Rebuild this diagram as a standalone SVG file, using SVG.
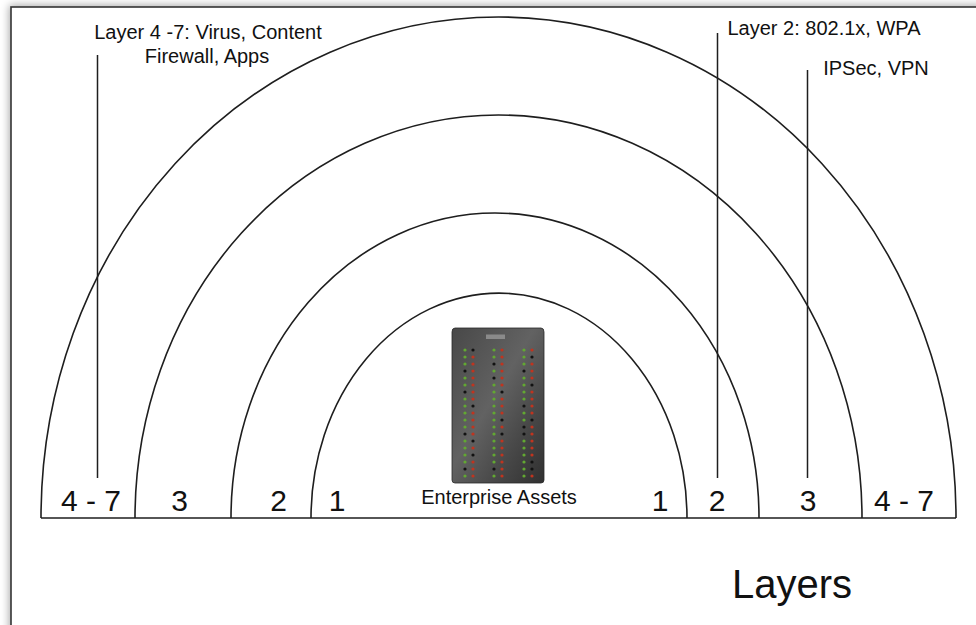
<svg xmlns="http://www.w3.org/2000/svg" width="976" height="625" viewBox="0 0 976 625">
  <defs>
    <filter id="frameShadow" x="-5%" y="-5%" width="110%" height="110%">
      <feGaussianBlur in="SourceAlpha" stdDeviation="4"/>
      <feOffset dx="-1" dy="-1" result="blur"/>
      <feComponentTransfer><feFuncA type="linear" slope="0.35"/></feComponentTransfer>
      <feMerge><feMergeNode/><feMergeNode in="SourceGraphic"/></feMerge>
    </filter>
    <linearGradient id="cabinet" x1="0" y1="0" x2="1" y2="1">
      <stop offset="0" stop-color="#484848"/>
      <stop offset="0.45" stop-color="#626262"/>
      <stop offset="0.7" stop-color="#4a4a4a"/>
      <stop offset="1" stop-color="#303030"/>
    </linearGradient>
    <circle id="led" r="1.6"/>
  </defs>
  <style>
    .ring { fill: none; stroke: #1e1e1e; stroke-width: 1.6; }
    .lead { fill: none; stroke: #1e1e1e; stroke-width: 1.5; }
    .lbl { font-family: "Liberation Sans", Arial, Helvetica, sans-serif; fill: #111; }
    .note { font-size: 20px; }
    .num { font-size: 30px; text-anchor: middle; }
    .g { fill: #62a832; }
    .r { fill: #c0341f; }
    .k { fill: #111; }
  </style>

  <!-- page background and frame -->
  <rect x="0" y="0" width="976" height="625" fill="#fff"/>
  <rect x="11" y="7" width="1100" height="800" fill="#fff" stroke="#333" stroke-width="1.6" filter="url(#frameShadow)"/>

  <!-- concentric layer rings -->
  <g id="connectors">
    <path id="ring-4-7" class="ring" d="M41,518 A457.5,501 0 0 1 956,518"/>
    <path id="ring-3" class="ring" d="M135,518 A363.5,403 0 0 1 862,518"/>
    <path id="ring-2" class="ring" d="M231,518 A264,305 0 0 1 759,518"/>
    <path id="ring-1" class="ring" d="M311,518 A188,225 0 0 1 687,518"/>
    <line id="baseline" class="ring" x1="41" y1="518" x2="956" y2="518"/>
    <!-- callout leaders -->
    <line class="lead" x1="97.5" y1="55" x2="97.5" y2="478"/>
    <line class="lead" x1="717.5" y1="33" x2="717.5" y2="478"/>
    <line class="lead" x1="807.5" y1="70" x2="807.5" y2="478"/>
  </g>

  <!-- callout notes -->
  <g id="note-layer47">
    <text class="lbl note" x="208" y="39" text-anchor="middle">Layer 4 -7: Virus, Content</text>
    <text class="lbl note" x="207" y="63" text-anchor="middle">Firewall, Apps</text>
  </g>
  <g id="note-layer2">
    <text class="lbl note" x="824" y="35" text-anchor="middle">Layer 2: 802.1x, WPA</text>
  </g>
  <g id="note-ipsec">
    <text class="lbl note" x="876" y="75" text-anchor="middle">IPSec, VPN</text>
  </g>

  <!-- ring labels -->
  <g id="labels-left">
    <text class="lbl num" x="91" y="511">4 - 7</text>
    <text class="lbl num" x="179.5" y="511">3</text>
    <text class="lbl num" x="278.5" y="511">2</text>
    <text class="lbl num" x="337" y="511">1</text>
  </g>
  <g id="labels-right">
    <text class="lbl num" x="660" y="511">1</text>
    <text class="lbl num" x="717" y="511">2</text>
    <text class="lbl num" x="808" y="511">3</text>
    <text class="lbl num" x="904" y="511">4 - 7</text>
  </g>

  <!-- server cabinet in the core -->
  <g id="enterprise-assets">
    <path d="M455,328 L541,328 Q544,328 544,332 L544,480 Q544,483 541,483 L455,483 Q452,483 452,480 L452,332 Q452,328 455,328 Z" fill="url(#cabinet)" stroke="#2a2a2a" stroke-width="0.8"/>
    <rect x="486" y="334.5" width="19" height="4.5" fill="#8a8a8a"/>
    <g id="leds">
      <!-- columns at x = 465, 473, 494, 502, 524, 532; rows every 7px from y = 350 -->
      <use href="#led" class="g" x="465" y="350"/><use href="#led" class="k" x="473" y="350"/><use href="#led" class="g" x="494" y="350"/><use href="#led" class="r" x="502" y="350"/><use href="#led" class="g" x="524" y="350"/><use href="#led" class="r" x="532" y="350"/>
      <use href="#led" class="g" x="465" y="357"/><use href="#led" class="r" x="473" y="357"/><use href="#led" class="g" x="494" y="357"/><use href="#led" class="r" x="502" y="357"/><use href="#led" class="g" x="524" y="357"/><use href="#led" class="k" x="532" y="357"/>
      <use href="#led" class="g" x="465" y="364"/><use href="#led" class="r" x="473" y="364"/><use href="#led" class="k" x="494" y="364"/><use href="#led" class="r" x="502" y="364"/><use href="#led" class="g" x="524" y="364"/><use href="#led" class="r" x="532" y="364"/>
      <use href="#led" class="k" x="465" y="371"/><use href="#led" class="r" x="473" y="371"/><use href="#led" class="g" x="494" y="371"/><use href="#led" class="r" x="502" y="371"/><use href="#led" class="k" x="524" y="371"/><use href="#led" class="r" x="532" y="371"/>
      <use href="#led" class="g" x="465" y="378"/><use href="#led" class="r" x="473" y="378"/><use href="#led" class="k" x="494" y="378"/><use href="#led" class="r" x="502" y="378"/><use href="#led" class="g" x="524" y="378"/><use href="#led" class="r" x="532" y="378"/>
      <use href="#led" class="g" x="465" y="385"/><use href="#led" class="r" x="473" y="385"/><use href="#led" class="g" x="494" y="385"/><use href="#led" class="r" x="502" y="385"/><use href="#led" class="g" x="524" y="385"/><use href="#led" class="k" x="532" y="385"/>
      <use href="#led" class="k" x="465" y="392"/><use href="#led" class="r" x="473" y="392"/><use href="#led" class="g" x="494" y="392"/><use href="#led" class="k" x="502" y="392"/><use href="#led" class="g" x="524" y="392"/><use href="#led" class="r" x="532" y="392"/>
      <use href="#led" class="g" x="465" y="399"/><use href="#led" class="r" x="473" y="399"/><use href="#led" class="g" x="494" y="399"/><use href="#led" class="r" x="502" y="399"/><use href="#led" class="g" x="524" y="399"/><use href="#led" class="r" x="532" y="399"/>
      <use href="#led" class="g" x="465" y="406"/><use href="#led" class="k" x="473" y="406"/><use href="#led" class="g" x="494" y="406"/><use href="#led" class="r" x="502" y="406"/><use href="#led" class="k" x="524" y="406"/><use href="#led" class="r" x="532" y="406"/>
      <use href="#led" class="g" x="465" y="413"/><use href="#led" class="r" x="473" y="413"/><use href="#led" class="g" x="494" y="413"/><use href="#led" class="r" x="502" y="413"/><use href="#led" class="g" x="524" y="413"/><use href="#led" class="r" x="532" y="413"/>
      <use href="#led" class="g" x="465" y="420"/><use href="#led" class="r" x="473" y="420"/><use href="#led" class="g" x="494" y="420"/><use href="#led" class="k" x="502" y="420"/><use href="#led" class="g" x="524" y="420"/><use href="#led" class="k" x="532" y="420"/>
      <use href="#led" class="g" x="465" y="427"/><use href="#led" class="r" x="473" y="427"/><use href="#led" class="g" x="494" y="427"/><use href="#led" class="r" x="502" y="427"/><use href="#led" class="k" x="524" y="427"/><use href="#led" class="r" x="532" y="427"/>
      <use href="#led" class="k" x="465" y="434"/><use href="#led" class="r" x="473" y="434"/><use href="#led" class="g" x="494" y="434"/><use href="#led" class="k" x="502" y="434"/><use href="#led" class="k" x="524" y="434"/><use href="#led" class="r" x="532" y="434"/>
      <use href="#led" class="g" x="465" y="441"/><use href="#led" class="k" x="473" y="441"/><use href="#led" class="g" x="494" y="441"/><use href="#led" class="r" x="502" y="441"/><use href="#led" class="g" x="524" y="441"/><use href="#led" class="r" x="532" y="441"/>
      <use href="#led" class="g" x="465" y="448"/><use href="#led" class="r" x="473" y="448"/><use href="#led" class="g" x="494" y="448"/><use href="#led" class="r" x="502" y="448"/><use href="#led" class="g" x="524" y="448"/><use href="#led" class="r" x="532" y="448"/>
      <use href="#led" class="g" x="465" y="455"/><use href="#led" class="k" x="473" y="455"/><use href="#led" class="g" x="494" y="455"/><use href="#led" class="r" x="502" y="455"/><use href="#led" class="g" x="524" y="455"/><use href="#led" class="r" x="532" y="455"/>
      <use href="#led" class="g" x="465" y="462"/><use href="#led" class="r" x="473" y="462"/><use href="#led" class="g" x="494" y="462"/><use href="#led" class="r" x="502" y="462"/><use href="#led" class="g" x="524" y="462"/><use href="#led" class="k" x="532" y="462"/>
      <use href="#led" class="k" x="465" y="469"/><use href="#led" class="r" x="473" y="469"/><use href="#led" class="k" x="494" y="469"/><use href="#led" class="r" x="502" y="469"/><use href="#led" class="g" x="524" y="469"/><use href="#led" class="k" x="532" y="469"/>
      <use href="#led" class="g" x="465" y="476"/><use href="#led" class="r" x="473" y="476"/><use href="#led" class="g" x="494" y="476"/><use href="#led" class="r" x="502" y="476"/><use href="#led" class="g" x="524" y="476"/><use href="#led" class="r" x="532" y="476"/>
    </g>
    <text class="lbl" x="499" y="504" font-size="20" text-anchor="middle">Enterprise Assets</text>
  </g>

  <!-- diagram title -->
  <g id="title">
    <text class="lbl" x="792" y="598" font-size="40" text-anchor="middle">Layers</text>
  </g>
</svg>
